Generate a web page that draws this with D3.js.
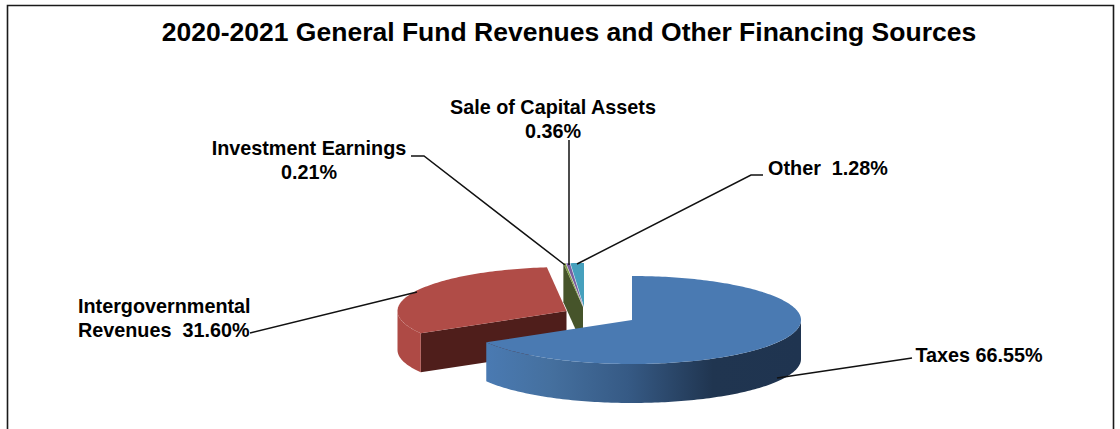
<!DOCTYPE html>
<html>
<head>
<meta charset="utf-8">
<script src="https://cdn.jsdelivr.net/npm/d3@7/dist/d3.min.js"></script>
<style>
  html, body { margin: 0; padding: 0; background: #fff; }
  text { font-family: "Liberation Sans", Arial, sans-serif; font-weight: bold; fill: #000; }
</style>
</head>
<body>
<svg id="chart" width="1120" height="429"></svg>
<script>
const categories = ["Taxes", "Intergovernmental Revenues", "Investment Earnings", "Sale of Capital Assets", "Other"];
const values = [66.55, 31.60, 0.21, 0.36, 1.28];
const topColors = ["#4a7ab2", "#b04c47", "#7f9a48", "#7a5f9f", "#46a0bd"];
const cutColors = ["#2c4a70", "#4f1e1b", "#46542a", "#4a3a60", "#2c6a80"];
const sideColors = ["#4a7ab2", "#ae4a45", "#6a8040", "#66508a", "#3d8aa3"];

const svg = d3.select("#chart");
const width = 1120, height = 429;

// ellipse of the tilted pie and the height of its wall
const rx = 169, ry = 44, depth = 39;

// where each slice's point ends up after the explosion
const apexes = [[632, 320], [566.5, 311], [583, 307], [583.5, 307], [584, 307]];

// 3d angle helper, angle is clockwise from 12 o'clock
const pt = (c, a, dy = 0) => [c[0] + rx * Math.sin(a), c[1] - ry * Math.cos(a) + dy];

const arcPoints = (c, a0, a1, dy = 0) => {
  const n = Math.max(2, Math.ceil(Math.abs(a1 - a0) / 0.02));
  return d3.range(n + 1).map(i => pt(c, a0 + (a1 - a0) * i / n, dy));
};

const line = d3.line();
const defs = svg.append("defs");

const wallGrad = defs.append("linearGradient")
  .attr("id", "blueWall")
  .attr("gradientUnits", "userSpaceOnUse")
  .attr("x1", 486).attr("x2", 801).attr("y1", 0).attr("y2", 0);
[[0, "#4a7ab2"], [0.2, "#45709f"], [0.45, "#365a85"], [0.72, "#203550"], [1, "#1f3450"]]
  .forEach(s => wallGrad.append("stop").attr("offset", s[0]).attr("stop-color", s[1]));

svg.append("rect").attr("width", width).attr("height", height).attr("fill", "#fff");

// chart frame, only top and side edges fall inside the crop
svg.append("path")
  .attr("d", "M7.5,429V5.5H1113.5V429")
  .attr("fill", "none").attr("stroke", "#1a1a1a").attr("stroke-width", 1.6);

svg.append("text")
  .attr("x", 569).attr("y", 41)
  .attr("text-anchor", "middle")
  .attr("font-size", 26.5)
  .text("2020-2021 General Fund Revenues and Other Financing Sources");

const slices = d3.pie().sort(null).value(d => d)(values);

const pieG = svg.append("g");

// back to front: red, the three small ones, then blue on top
[1, 2, 3, 4, 0].forEach(i => {
  const s = slices[i], c = apexes[i];
  const g = pieG.append("g").attr("class", "slice");

  // face left by the cut, seen on slices whose start edge turns to the viewer
  if (i === 1 || i === 2) {
    const a = s.startAngle;
    g.append("path")
      .attr("d", line([c, pt(c, a), pt(c, a, depth), [c[0], c[1] + depth]]) + "Z")
      .attr("fill", cutColors[i]);
  }

  // outer wall, only the front half of the ellipse shows
  const w0 = Math.max(s.startAngle, Math.PI / 2);
  const w1 = Math.min(s.endAngle, Math.PI * 1.5);
  if (w1 > w0) {
    const wall = arcPoints(c, w0, w1).concat(arcPoints(c, w1, w0, depth));
    g.append("path")
      .attr("d", line(wall) + "Z")
      .attr("fill", i === 0 ? "url(#blueWall)" : sideColors[i]);
  }

  // top face
  const top = [c].concat(arcPoints(c, s.startAngle, s.endAngle));
  g.append("path").attr("d", line(top) + "Z").attr("fill", topColors[i]);
});

// leader lines
const leaders = [
  [[777, 378], [912, 358]],
  [[417, 292], [250, 333]],
  [[411, 156], [424, 156], [565, 265]],
  [[569, 140], [569, 265]],
  [[763, 175], [751, 175], [577, 264]]
];
leaders.forEach(l => {
  svg.append("path").attr("d", line(l))
    .attr("fill", "none").attr("stroke", "#111").attr("stroke-width", 1.5);
});

// data labels, one line per entry
const labels = [
  { lines: ["Taxes 66.55%"], x: 979, y: 362 },
  { lines: ["Intergovernmental", "Revenues  31.60%"], x: 78, y: 313, anchor: "start" },
  { lines: ["Investment Earnings", "0.21%"], x: 309, y: 155 },
  { lines: ["Sale of Capital Assets", "0.36%"], x: 553, y: 114 },
  { lines: ["Other  1.28%"], x: 828, y: 175 }
];
labels.forEach(l => {
  const t = svg.append("text")
    .attr("font-size", 19.8)
    .attr("text-anchor", l.anchor || "middle")
    .attr("xml:space", "preserve")
    .attr("y", l.y);
  l.lines.forEach((s, i) => {
    t.append("tspan").attr("x", l.x).attr("dy", i ? 24 : 0).text(s);
  });
});
</script>
</body>
</html>
